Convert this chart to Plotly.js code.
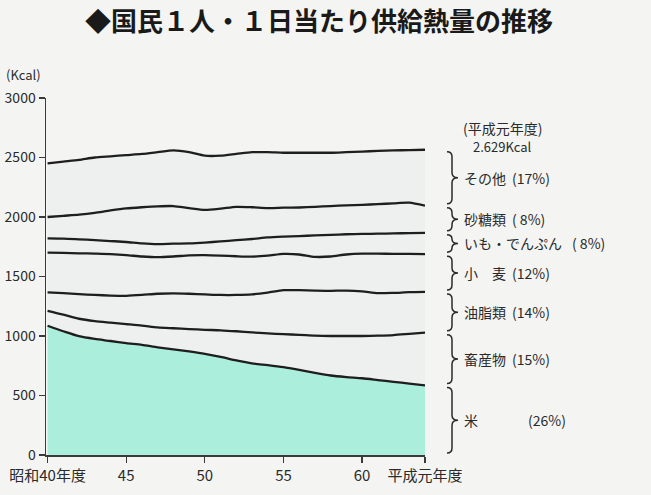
<!DOCTYPE html>
<html>
<head>
<meta charset="utf-8">
<script src="https://cdn.plot.ly/plotly-3.0.1.min.js"></script>
<style>html,body{margin:0;padding:0;background:#f4f5f3;}#chart{width:651px;height:495px;}</style>
</head>
<body>
<div id="chart"></div>
<script>
// 年度（昭和40〜平成元年度 = 昭和64）
const years = [40,41,42,43,44,45,46,47,48,49,50,51,52,53,54,55,56,57,58,59,60,61,62,63,64];

// 各品目の累積上端（Kcal）— 図から読み取り
const totalTop     = [2450,2465,2480,2500,2510,2520,2530,2545,2560,2545,2515,2515,2530,2545,2545,2540,2540,2540,2540,2545,2550,2555,2560,2562,2565]; // その他
const sugarTop     = [2000,2010,2020,2035,2055,2072,2082,2090,2092,2075,2060,2070,2085,2082,2075,2078,2080,2085,2092,2098,2102,2108,2115,2120,2095]; // 砂糖類
const imoTop       = [1820,1818,1812,1806,1798,1790,1778,1772,1776,1778,1785,1795,1805,1815,1828,1835,1840,1845,1850,1855,1858,1860,1862,1865,1867]; // いも・でんぷん
const wheatTop     = [1700,1698,1695,1692,1688,1680,1668,1662,1668,1678,1680,1676,1670,1667,1675,1690,1685,1665,1668,1685,1692,1692,1690,1690,1688]; // 小麦
const oilTop       = [1367,1360,1352,1345,1340,1338,1345,1355,1358,1355,1350,1345,1345,1350,1365,1385,1385,1382,1380,1382,1375,1360,1362,1368,1370]; // 油脂類
const livestockTop = [1212,1180,1145,1125,1112,1100,1088,1072,1065,1058,1052,1048,1040,1030,1022,1015,1010,1003,1000,1000,1000,1003,1008,1018,1028]; // 畜産物
const riceTop      = [1086,1040,998,975,958,940,925,905,888,870,850,825,795,770,755,738,715,690,668,655,645,630,615,600,585]; // 米

const categories = ['その他','砂糖類','いも・でんぷん','小　麦','油脂類','畜産物','米'];
const shares     = ['(17%)','( 8%)','( 8%)','(12%)','(14%)','(15%)','(26%)'];
const tickVals   = [40,45,50,55,60,64];
const tickText   = ['昭和40年度','45','50','55','60','平成元年度'];

const FONT = '"Noto Sans CJK JP", "Noto Sans", sans-serif';
const lineStyle = {color:'#1e1e1e', width:2.3, shape:'spline', smoothing:0.7};

const tops = [totalTop, sugarTop, imoTop, wheatTop, oilTop, livestockTop, riceTop];

const traces = [];
traces.push({x:years, y:totalTop, type:'scatter', mode:'lines', fill:'tozeroy', fillcolor:'#eef0ef', line:lineStyle, hoverinfo:'skip'});
for (let i = 1; i < tops.length - 1; i++) {
  traces.push({x:years, y:tops[i], type:'scatter', mode:'lines', line:lineStyle, hoverinfo:'skip'});
}
traces.push({x:years, y:riceTop, type:'scatter', mode:'lines', fill:'tozeroy', fillcolor:'#abeedc', line:lineStyle, hoverinfo:'skip'});

const plotW = 379, plotH = 357, yMax = 3000;
const px = p => p / plotW;
const py = p => p / plotH;
const last = arr => arr[arr.length - 1];

const bounds = tops.map(last).concat([0]);
const shapes = [];
const annotations = [];
const bx0 = 1 + px(22), bx1 = 1 + px(27), bx2 = 1 + px(33);
for (let i = 0; i < categories.length; i++) {
  const yt = bounds[i] / yMax - py(2);
  const yb = bounds[i+1] / yMax + py(2);
  const ym = (yt + yb) / 2;
  const r = Math.min(py(5), (yt - yb) / 4);
  const path = `M ${bx0},${yt} Q ${bx1},${yt} ${bx1},${yt - r} L ${bx1},${ym + r} Q ${bx1},${ym} ${bx2},${ym} Q ${bx1},${ym} ${bx1},${ym - r} L ${bx1},${yb + r} Q ${bx1},${yb} ${bx0},${yb}`;
  shapes.push({type:'path', xref:'paper', yref:'paper', path:path, line:{color:'#2a2a2a', width:1.5}});
  annotations.push({xref:'paper', yref:'paper', x:1 + px(37), y:ym, xanchor:'left', yanchor:'middle', showarrow:false,
    text:categories[i], font:{family:FONT, size:14, color:'#2a2a2a'}});
  const shareX = (i === 6) ? px(101) : (i === 2 ? px(145) : px(85));
  annotations.push({xref:'paper', yref:'paper', x:1 + shareX, y:ym, xanchor:'left', yanchor:'middle', showarrow:false,
    text:shares[i], font:{family:FONT, size:14, color:'#2a2a2a'}});
}
annotations.push({xref:'paper', yref:'paper', x:-px(42), y:1 + py(24), xanchor:'left', yanchor:'middle', showarrow:false,
  text:'(Kcal)', font:{family:FONT, size:13, color:'#2a2a2a'}});
annotations.push({xref:'paper', yref:'paper', x:1 + px(36), y:1 - py(30), xanchor:'left', yanchor:'middle', showarrow:false,
  text:'(平成元年度)', font:{family:FONT, size:14, color:'#2a2a2a'}});
annotations.push({xref:'paper', yref:'paper', x:1 + px(46), y:1 - py(48), xanchor:'left', yanchor:'middle', showarrow:false,
  text:'2.629Kcal', font:{family:FONT, size:13, color:'#2a2a2a'}});

const layout = {
  width:651, height:495,
  margin:{l:46, r:226, t:98, b:40, pad:0},
  paper_bgcolor:'#f4f5f3', plot_bgcolor:'rgba(0,0,0,0)',
  showlegend:false,
  title:{text:'◆国民１人・１日当たり供給熱量の推移', x:0.49, xanchor:'center', yref:'container', y:1 - 22/495, yanchor:'middle',
    font:{family:FONT, size:26, color:'#1a1a1a', weight:700}},
  xaxis:{range:[39.9,64], tickvals:tickVals, ticktext:tickText, showgrid:false, zeroline:false,
    showline:true, linecolor:'#3a3a3a', linewidth:1.5, ticks:'outside', ticklen:6, tickcolor:'#3a3a3a', tickwidth:1.3,
    tickfont:{family:FONT, size:15, color:'#2a2a2a'}, fixedrange:true},
  yaxis:{range:[0,3000], tickvals:[0,500,1000,1500,2000,2500,3000], showgrid:false, zeroline:false,
    showline:true, linecolor:'#3a3a3a', linewidth:1.5, ticks:'outside', ticklen:6, tickcolor:'#3a3a3a', tickwidth:1.3,
    tickfont:{family:FONT, size:14, color:'#2a2a2a'}, fixedrange:true},
  shapes:shapes,
  annotations:annotations
};

Plotly.newPlot('chart', traces, layout, {displayModeBar:false, staticPlot:true});
</script>
</body>
</html>
